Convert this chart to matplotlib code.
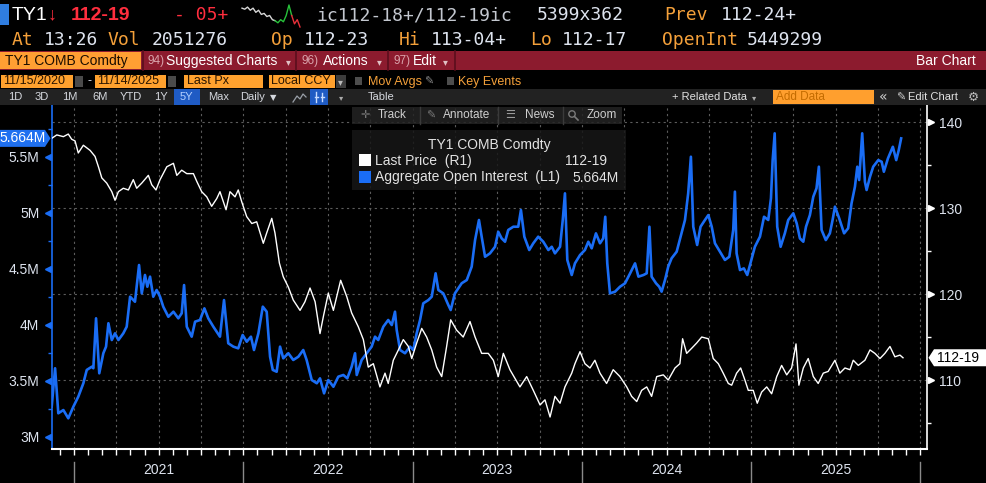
import numpy as np
import matplotlib.pyplot as plt
import matplotlib.transforms as mtransforms
from matplotlib.patches import Rectangle, Polygon, Circle
from matplotlib.ticker import FixedLocator, FuncFormatter

# ---- data (decimal years) ----
price_t = [2020.868, 2020.898, 2020.937, 2020.966, 2020.986, 2021.006, 2021.025, 2021.055, 2021.095, 2021.124,
           2021.144, 2021.164, 2021.193, 2021.223, 2021.242, 2021.262, 2021.291, 2021.321, 2021.350, 2021.370,
           2021.400, 2021.439, 2021.459, 2021.484, 2021.508, 2021.548, 2021.587, 2021.607, 2021.636, 2021.666,
           2021.705, 2021.725, 2021.754, 2021.784, 2021.813, 2021.843, 2021.862, 2021.898, 2021.921, 2021.951,
           2021.970, 2021.991, 2022.020, 2022.050, 2022.079, 2022.118, 2022.138, 2022.168, 2022.187, 2022.213,
           2022.236, 2022.266, 2022.295, 2022.335, 2022.364, 2022.394, 2022.424, 2022.453, 2022.473, 2022.502,
           2022.532, 2022.575, 2022.611, 2022.640, 2022.679, 2022.709, 2022.738, 2022.768, 2022.807, 2022.837,
           2022.856, 2022.886, 2022.916, 2022.945, 2022.975, 2022.995, 2023.024, 2023.054, 2023.083, 2023.113,
           2023.142, 2023.172, 2023.201, 2023.225, 2023.260, 2023.299, 2023.339, 2023.369, 2023.408, 2023.447,
           2023.477, 2023.506, 2023.536, 2023.575, 2023.634, 2023.674, 2023.713, 2023.753, 2023.782, 2023.812,
           2023.841, 2023.871, 2023.900, 2023.940, 2023.959, 2023.989, 2024.018, 2024.048, 2024.077, 2024.107,
           2024.146, 2024.185, 2024.225, 2024.265, 2024.294, 2024.324, 2024.353, 2024.383, 2024.412, 2024.442,
           2024.481, 2024.510, 2024.550, 2024.579, 2024.595, 2024.619, 2024.649, 2024.678, 2024.708, 2024.747,
           2024.776, 2024.806, 2024.835, 2024.865, 2024.885, 2024.914, 2024.938, 2024.963, 2024.983, 2025.012,
           2025.036, 2025.062, 2025.092, 2025.121, 2025.151, 2025.180, 2025.210, 2025.239, 2025.265, 2025.282,
           2025.308, 2025.337, 2025.367, 2025.396, 2025.426, 2025.455, 2025.495, 2025.524, 2025.554, 2025.584,
           2025.603, 2025.633, 2025.672, 2025.702, 2025.731, 2025.761, 2025.790, 2025.820, 2025.849, 2025.879,
           2025.897]
price_v = [138.1, 138.5, 138.3, 138.6, 138.0, 137.8, 136.4, 137.3, 136.7, 136.0,
           134.8, 133.5, 132.9, 131.9, 130.9, 131.9, 132.3, 132.1, 133.3, 132.3,
           132.9, 133.8, 132.7, 132.1, 133.3, 134.8, 135.2, 133.8, 134.4, 134.0,
           134.0, 133.1, 131.9, 131.3, 130.2, 131.1, 131.9, 129.8, 131.9, 131.3,
           132.1, 130.7, 129.0, 128.2, 128.4, 125.9, 127.1, 128.8, 127.1, 123.6,
           122.0, 120.8, 119.3, 118.1, 119.1, 120.7, 119.1, 115.4, 117.4, 120.1,
           118.1, 121.6, 119.7, 117.8, 116.2, 114.7, 111.5, 111.9, 109.2, 110.8,
           109.6, 112.3, 113.5, 114.7, 113.9, 112.5, 114.3, 116.0, 115.0, 113.5,
           111.5, 110.4, 113.9, 117.0, 115.8, 115.0, 116.8, 115.0, 113.1, 113.1,
           112.3, 110.4, 113.1, 111.2, 109.2, 110.4, 108.8, 107.1, 107.7, 105.7,
           108.1, 107.3, 109.2, 110.8, 111.9, 113.3, 111.9, 111.4, 112.3, 110.8,
           109.6, 111.2, 110.4, 109.2, 108.1, 107.5, 108.8, 109.2, 108.1, 110.4,
           110.6, 110.0, 111.4, 111.9, 114.8, 113.1, 113.7, 114.3, 115.0, 114.8,
           112.5, 111.9, 110.8, 109.6, 109.4, 110.8, 111.4, 110.0, 108.8, 108.8,
           107.3, 108.6, 109.2, 108.4, 110.4, 111.7, 110.6, 111.4, 114.2, 109.4,
           111.4, 112.5, 110.4, 109.6, 110.8, 111.0, 112.3, 110.8, 111.4, 111.2,
           112.3, 111.7, 112.3, 113.5, 113.1, 112.5, 113.1, 113.9, 112.7, 112.9,
           112.59]

oi_t = [2020.868, 2020.888, 2020.907, 2020.937, 2020.966, 2020.996, 2021.025, 2021.055, 2021.075, 2021.105,
        2021.114, 2021.130, 2021.149, 2021.173, 2021.189, 2021.203, 2021.223, 2021.242, 2021.262, 2021.291,
        2021.311, 2021.331, 2021.360, 2021.384, 2021.400, 2021.419, 2021.433, 2021.449, 2021.468, 2021.488,
        2021.508, 2021.527, 2021.557, 2021.587, 2021.616, 2021.636, 2021.650, 2021.666, 2021.695, 2021.715,
        2021.744, 2021.770, 2021.793, 2021.823, 2021.862, 2021.886, 2021.911, 2021.941, 2021.970, 2021.996,
        2022.020, 2022.045, 2022.063, 2022.089, 2022.115, 2022.138, 2022.158, 2022.174, 2022.197, 2022.217,
        2022.236, 2022.266, 2022.295, 2022.325, 2022.354, 2022.374, 2022.404, 2022.434, 2022.453, 2022.477,
        2022.502, 2022.532, 2022.561, 2022.591, 2022.614, 2022.640, 2022.660, 2022.670, 2022.699, 2022.729,
        2022.758, 2022.778, 2022.797, 2022.827, 2022.856, 2022.877, 2022.896, 2022.906, 2022.926, 2022.955,
        2022.985, 2023.004, 2023.024, 2023.044, 2023.063, 2023.093, 2023.113, 2023.136, 2023.152, 2023.181,
        2023.211, 2023.225, 2023.250, 2023.290, 2023.320, 2023.349, 2023.369, 2023.392, 2023.408, 2023.428,
        2023.457, 2023.487, 2023.506, 2023.526, 2023.546, 2023.565, 2023.595, 2023.624, 2023.640, 2023.660,
        2023.689, 2023.713, 2023.742, 2023.772, 2023.802, 2023.822, 2023.841, 2023.871, 2023.887, 2023.900,
        2023.914, 2023.940, 2023.959, 2023.989, 2024.018, 2024.038, 2024.058, 2024.083, 2024.107, 2024.126,
        2024.138, 2024.150, 2024.166, 2024.196, 2024.225, 2024.255, 2024.285, 2024.314, 2024.334, 2024.364,
        2024.383, 2024.399, 2024.412, 2024.438, 2024.457, 2024.471, 2024.491, 2024.510, 2024.530, 2024.560,
        2024.583, 2024.609, 2024.628, 2024.644, 2024.658, 2024.681, 2024.701, 2024.727, 2024.747, 2024.767,
        2024.786, 2024.816, 2024.845, 2024.871, 2024.894, 2024.904, 2024.914, 2024.934, 2024.957, 2024.977,
        2024.993, 2025.022, 2025.052, 2025.076, 2025.101, 2025.117, 2025.127, 2025.139, 2025.154, 2025.174,
        2025.199, 2025.219, 2025.249, 2025.269, 2025.288, 2025.308, 2025.324, 2025.347, 2025.367, 2025.386,
        2025.400, 2025.416, 2025.441, 2025.465, 2025.481, 2025.495, 2025.520, 2025.549, 2025.573, 2025.593,
        2025.613, 2025.627, 2025.638, 2025.656, 2025.672, 2025.682, 2025.702, 2025.721, 2025.751, 2025.771,
        2025.784, 2025.808, 2025.837, 2025.857, 2025.872, 2025.886]
oi_v = [3.268, 3.611, 3.209, 3.238, 3.164, 3.268, 3.357, 3.477, 3.596, 3.625,
        3.611, 4.057, 3.566, 3.745, 3.804, 4.013, 3.863, 3.923, 3.863, 3.923,
        3.982, 4.250, 4.205, 4.533, 4.280, 4.444, 4.339, 4.429, 4.250, 4.310,
        4.250, 4.161, 4.071, 4.116, 4.057, 4.102, 4.354, 3.982, 3.893, 4.027,
        4.042, 4.146, 4.057, 3.982, 3.893, 4.220, 3.834, 3.804, 3.789, 3.908,
        3.848, 3.893, 3.774, 3.923, 4.161, 4.116, 3.714, 3.596, 3.580, 3.804,
        3.700, 3.745, 3.685, 3.714, 3.774, 3.685, 3.506, 3.477, 3.521, 3.387,
        3.506, 3.446, 3.536, 3.551, 3.521, 3.625, 3.745, 3.551, 3.685, 3.745,
        3.804, 3.893, 3.863, 3.982, 4.042, 3.997, 4.116, 3.953, 3.774, 3.745,
        3.804, 3.774, 3.923, 4.042, 4.191, 4.220, 4.250, 4.459, 4.310, 4.280,
        4.176, 4.131, 4.280, 4.370, 4.399, 4.518, 4.756, 4.935, 4.786, 4.607,
        4.637, 4.696, 4.830, 4.771, 4.741, 4.846, 4.875, 4.875, 5.024, 4.786,
        4.667, 4.727, 4.786, 4.741, 4.667, 4.696, 4.637, 4.696, 4.935, 5.173,
        4.578, 4.444, 4.548, 4.622, 4.667, 4.741, 4.682, 4.816, 4.727, 4.771,
        4.964, 4.548, 4.280, 4.295, 4.339, 4.370, 4.459, 4.548, 4.429, 4.444,
        4.459, 4.875, 4.429, 4.370, 4.339, 4.295, 4.399, 4.518, 4.593, 4.652,
        4.786, 4.935, 5.173, 5.500, 4.875, 4.712, 4.875, 4.935, 4.979, 4.875,
        4.727, 4.652, 4.578, 4.607, 4.846, 5.188, 4.637, 4.488, 4.503, 4.444,
        4.533, 4.696, 4.786, 4.964, 4.935, 5.129, 5.470, 5.709, 4.875, 4.696,
        4.816, 4.935, 4.995, 4.905, 4.771, 4.741, 4.875, 4.979, 5.143, 5.218,
        5.411, 4.846, 4.756, 4.816, 4.935, 5.054, 4.950, 4.816, 4.861, 5.084,
        5.232, 5.411, 5.292, 5.709, 5.277, 5.203, 5.321, 5.411, 5.470, 5.455,
        5.366, 5.485, 5.589, 5.470, 5.560, 5.664]

years = [2021, 2022, 2023, 2024, 2025]
oi_ticks = [3.0, 3.5, 4.0, 4.5, 5.0, 5.5]
price_ticks = [110, 120, 130, 140]
spark_v = [23, 22, 24, 21, 23, 19, 21, 17, 18, 15, 16, 12, 11, 9, 12, 10, 16, 26, 16, 8, 12, 5]

BLUE = '#1a6df5'
ORANGE = '#f4a03a'
VAL = '#dde3ee'
RED = '#ff2e3e'
SANS = ['Liberation Sans', 'DejaVu Sans']
NARROW = ['Liberation Sans Narrow', 'Liberation Sans', 'DejaVu Sans']
MONO = ['DejaVu Sans Mono', 'DejaVu Sans']

W, H = 986, 483
fig = plt.figure(figsize=(W / 100, H / 100), dpi=100, facecolor='black')

# ---- main chart ----
ax = fig.add_axes([51.7 / W, 34 / H, 875 / W, 344 / H])
ax.set_facecolor('black')
ax2 = ax.twinx()

ax.set_xlim(2020.868, 2026.037)
ax.set_ylim(2.890, 5.962)
ax2.set_ylim(101.98, 141.98)

ax.plot(oi_t, oi_v, color=BLUE, lw=1.9, solid_joinstyle='round', zorder=3)
ax2.plot(price_t, price_v, color='white', lw=1.0, zorder=3)

# horizontal grid follows the right (price) axis, drawn under both lines
hgrid = mtransforms.blended_transform_factory(ax.transAxes, ax2.transData)
for v in price_ticks:
    ax.plot([0, 1], [v, v], transform=hgrid, color='#5c5c5c', lw=0.8,
            ls=(0, (2, 3)), zorder=1)

quarters = [y + q / 4 for y in range(2021, 2027) for q in range(4)]
months = [y + m / 12 for y in range(2020, 2027) for m in range(12)]
quarters = [q for q in quarters if q < 2026.03]
months = [m for m in months if 2020.868 < m < 2026.03]
ax.xaxis.set_major_locator(FixedLocator(quarters))
ax.xaxis.set_minor_locator(FixedLocator(months))
ax.tick_params(axis='x', which='both', length=4, width=1, color='white',
               labelbottom=False)
ax.grid(axis='x', which='major', color='#5c5c5c', lw=0.8, ls=(0, (2, 3)))
ax.set_axisbelow(True)

for s in ['top', 'right']:
    ax.spines[s].set_visible(False)
ax.spines['left'].set_color(BLUE)
ax.spines['left'].set_linewidth(1.2)
ax.spines['bottom'].set_color('white')
ax.spines['bottom'].set_linewidth(1.5)
for s in ['top', 'left', 'bottom']:
    ax2.spines[s].set_visible(False)
ax2.spines['right'].set_color('white')
ax2.spines['right'].set_linewidth(1.2)

# left axis (open interest)
ax.yaxis.set_major_locator(FixedLocator(oi_ticks))
ax.yaxis.set_minor_locator(FixedLocator([v + 0.25 for v in oi_ticks]))
ax.yaxis.set_major_formatter(FuncFormatter(lambda v, p: f"{v:g}M"))
ax.tick_params(axis='y', which='major', length=0, pad=9, labelcolor=VAL,
               labelsize=10)
ax.tick_params(axis='y', which='minor', length=3, width=1, color=BLUE)
for lab in ax.get_yticklabels():
    lab.set_family(NARROW)
lt = mtransforms.blended_transform_factory(ax.transAxes, ax.transData)
ax.plot([-0.0045] * len(oi_ticks), oi_ticks, transform=lt, ls='none',
        marker='<', ms=5, color=BLUE, clip_on=False)

# right axis (price)
ax2.yaxis.set_major_locator(FixedLocator(price_ticks))
ax2.yaxis.set_minor_locator(FixedLocator([v - 5 for v in price_ticks]))
ax2.tick_params(axis='y', which='major', length=0, pad=9, labelcolor=VAL,
                labelsize=10)
ax2.tick_params(axis='y', which='minor', length=3, width=1, color='white')
for lab in ax2.get_yticklabels():
    lab.set_family(NARROW)
rt = mtransforms.blended_transform_factory(ax2.transAxes, ax2.transData)
ax2.plot([1.0045] * len(price_ticks), price_ticks, transform=rt, ls='none',
         marker='>', ms=5, color='white', clip_on=False)

# year labels and separators under the axis
bt = mtransforms.blended_transform_factory(ax.transData, ax.transAxes)
for y in years:
    ax.text(y + 0.5, -0.062, str(y), transform=bt, ha='center', va='center',
            color=VAL, fontsize=10, family=NARROW)
for y in years + [2026]:
    ax.plot([y, y], [-0.038, -0.1], transform=bt, color='#8a8a8a', lw=1,
            clip_on=False)

# ---- overlay in pixel coordinates for the terminal furniture ----
ov = fig.add_axes([0, 0, 1, 1], zorder=10)
ov.set_xlim(0, W)
ov.set_ylim(H, 0)
ov.axis('off')
ov.patch.set_alpha(0)


def txt(x, y, s, color=VAL, size=10, family=SANS, **kw):
    ov.text(x, y, s, color=color, fontsize=size, family=family,
            va='center', ha=kw.pop('ha', 'left'), **kw)


def box(x0, y0, x1, y1, color, **kw):
    ov.add_patch(Rectangle((x0, y0), x1 - x0, y1 - y0, facecolor=color,
                           edgecolor='none', **kw))


price_str = f"{int(price_v[-1])}-{round((price_v[-1] - int(price_v[-1])) * 32):02d}"
oi_str = f"{oi_v[-1]:.3f}M"

# row 1
box(0, 4, 9, 25, '#2f7de0')
txt(12, 15, 'TY1', color='white', size=14, family=SANS)
txt(48, 15, '↓', color=RED, size=13, family=SANS)
txt(71, 15, price_str, color=RED, size=14, family=SANS, weight='bold')
txt(174, 15, '- 05+', color=RED, size=13, family=MONO)
sx = np.linspace(242, 300, len(spark_v))
sy = 27 - (np.array(spark_v) - min(spark_v)) / (max(spark_v) - min(spark_v)) * 22
ov.plot(sx[:13], sy[:13], color='#d8d8d8', lw=1)
ov.plot(sx[12:19], sy[12:19], color='#27c23a', lw=1)
ov.plot(sx[18:], sy[18:], color='#e8303a', lw=1)
txt(316, 15, 'ic112-18+/112-19ic', color='#c3c7cf', size=13, family=MONO)
txt(537, 15, '5399x362', color=VAL, size=13, family=MONO)
txt(664, 15, 'Prev', color=ORANGE, size=13, family=MONO)
txt(721, 15, '112-24+', color=VAL, size=13, family=MONO)

# row 2
row2 = [(12, 'At', ORANGE), (44, '13:26', VAL), (107, 'Vol', ORANGE),
        (152, '2051276', VAL), (271, 'Op', ORANGE), (304, '112-23', VAL),
        (399, 'Hi', ORANGE), (431, '113-04+', VAL), (530, 'Lo', ORANGE),
        (562, '112-17', VAL), (662, 'OpenInt', ORANGE), (747, '5449299', VAL)]
for x, s, c in row2:
    txt(x, 40, s, color=c, size=13, family=MONO)

# row 3: red menu bar
box(0, 51, W, 70, '#8c1b2e')
box(0, 52, 141, 69, '#ff9f33')
txt(5, 61, 'TY1 COMB Comdty', color='#1c0e00', size=10)
for x in [143, 296, 388, 455]:
    ov.plot([x, x], [51, 70], color='#5a0e1c', lw=1.2)
txt(147, 61, '94)', color='#d9a3ab', size=8.5)
txt(166, 61, 'Suggested Charts', color='white', size=10)
txt(286, 62, '▾', color='#e0c0c4', size=7, family=['DejaVu Sans'])
txt(301, 61, '96)', color='#d9a3ab', size=8.5)
txt(323, 61, 'Actions', color='white', size=10)
txt(377, 62, '▾', color='#e0c0c4', size=7, family=['DejaVu Sans'])
txt(394, 61, '97)', color='#d9a3ab', size=8.5)
txt(413, 61, 'Edit', color='white', size=10)
txt(443, 62, '▾', color='#e0c0c4', size=7, family=['DejaVu Sans'])
txt(976, 61, 'Bar Chart', color='white', size=10, ha='right')

# row 4: date / field selectors
OBOX = '#ffa12e'
DARK = '#2a1500'
box(1, 75, 73, 88, OBOX)
txt(3, 81.5, '11/15/2020', color=DARK, size=9)
box(75, 76, 83, 87, '#4a4a4a')
txt(87, 81.5, '-', color=VAL, size=9)
box(95, 75, 166, 88, OBOX)
txt(97, 81.5, '11/14/2025', color=DARK, size=9)
box(168, 76, 176, 87, '#4a4a4a')
box(184, 75, 263, 88, OBOX)
txt(187, 81.5, 'Last Px', color=DARK, size=9)
box(269, 75, 335, 88, OBOX)
txt(271, 81.5, 'Local CCY', color=DARK, size=9)
box(336, 75, 346, 88, '#3c3c3c')
txt(338, 82, '▾', color='#bbbbbb', size=7, family=['DejaVu Sans'])
box(355, 77, 362, 85, '#4d4d4d')
txt(368, 81.5, 'Mov Avgs', color=ORANGE, size=9)
txt(424, 81.5, '✎', color='#888888', size=8, family=['DejaVu Sans'])
box(447, 77, 454, 85, '#4d4d4d')
txt(458, 81.5, 'Key Events', color=ORANGE, size=9)

# row 5: period toolbar
box(0, 89, W, 105, '#222222')
for x, s in [(8, '1D'), (35, '3D'), (62, '1M'), (92, '6M'), (120, 'YTD'),
             (154, '1Y'), (208, 'Max'), (240, 'Daily'), (368, 'Table')]:
    txt(x, 97.5, s, color='#d5d8de', size=8)
box(174, 89, 200, 105, '#1f5bc4')
txt(180, 97.5, '5Y', color='#b5d0ff', size=8)
txt(270, 98, '▼', color='#d5d8de', size=6, family=['DejaVu Sans'])
ov.plot([293, 297, 300, 303, 306], [102, 96, 99, 94, 97], color='#9aa0a8', lw=0.9)
box(310, 89, 328, 105, '#1f5bc4')
for x, y0, y1 in [(316, 92, 102), (322, 93, 101)]:
    ov.plot([x, x], [y0, y1], color='#c8dcff', lw=1)
    ov.plot([x - 1.5, x + 1.5], [(y0 + y1) / 2] * 2, color='#c8dcff', lw=1)
txt(339, 98, '▾', color='#aaaaaa', size=6, family=['DejaVu Sans'])
txt(672, 97.5, '+ Related Data', color='#e2e2e2', size=8)
txt(752, 98, '▾', color='#aaaaaa', size=6, family=['DejaVu Sans'])
box(773, 90, 874, 104, '#ff9f2e')
txt(776, 97.5, 'Add Data', color='#c46c00', size=8.5)
txt(879, 97, '«', color='#cfcfcf', size=10, family=['DejaVu Sans'])
txt(896, 97.5, '✎', color='#cfcfcf', size=8, family=['DejaVu Sans'])
txt(908, 97.5, 'Edit Chart', color='#e2e2e2', size=8)
txt(968, 97.5, '⚙', color='#bbbbbb', size=9, family=['DejaVu Sans'])

# chart toolbar
box(352, 107, 622, 124, '#242424', alpha=0.85)
for x in [420, 498, 563]:
    ov.plot([x, x], [107, 124], color='#3a3a3a', lw=1)
txt(360, 115.5, '✛', color='#7a7a7a', size=8, family=['DejaVu Sans'])
txt(378, 115.5, 'Track', color='#cfcfcf', size=8.5)
txt(426, 115.5, '✎', color='#7a7a7a', size=8, family=['DejaVu Sans'])
txt(443, 115.5, 'Annotate', color='#cfcfcf', size=8.5)
txt(505, 115.5, '☰', color='#9a9a9a', size=8, family=['DejaVu Sans'])
txt(525, 115.5, 'News', color='#cfcfcf', size=8.5)
ov.add_patch(Circle((572, 114), 3.2, facecolor='none', edgecolor='#7a7a7a', lw=1))
ov.plot([574.5, 578], [116.5, 120], color='#7a7a7a', lw=1.2)
txt(587, 115.5, 'Zoom', color='#cfcfcf', size=8.5)

# legend
box(352, 130, 626, 190, '#171717', alpha=0.85)
txt(489, 145, 'TY1 COMB Comdty', color='#e2e2e2', size=10, ha='center')
box(359, 154, 371, 166, 'white')
txt(375, 161, 'Last Price  (R1)', color='#e2e2e2', size=10)
txt(607, 161, price_str, color='#e2e2e2', size=10, ha='right')
box(359, 171, 371, 183, BLUE)
txt(375, 177.5, 'Aggregate Open Interest  (L1)', color='#e2e2e2', size=10)
txt(619, 177.5, oi_str, color='#e2e2e2', size=10, ha='right')

# last-value tags on the two axes
fig.canvas.draw()
yl = H - ax.transData.transform((0, oi_v[-1]))[1]
ov.add_patch(Polygon([(0, yl - 8.5), (45, yl - 8.5), (50.5, yl), (45, yl + 8.5),
                      (0, yl + 8.5)], closed=True, facecolor='#1f70f0',
                     edgecolor='none'))
txt(23, yl, oi_str, color='white', size=10, ha='center', family=NARROW)
yr = H - ax2.transData.transform((0, price_v[-1]))[1]
ov.add_patch(Polygon([(928.5, yr), (934, yr - 8.5), (986, yr - 8.5),
                      (986, yr + 8.5), (934, yr + 8.5)], closed=True,
                     facecolor='white', edgecolor='none'))
txt(958, yr, price_str, color='black', size=10, ha='center', family=NARROW)

fig.savefig('out.png', dpi=100, facecolor='black')
